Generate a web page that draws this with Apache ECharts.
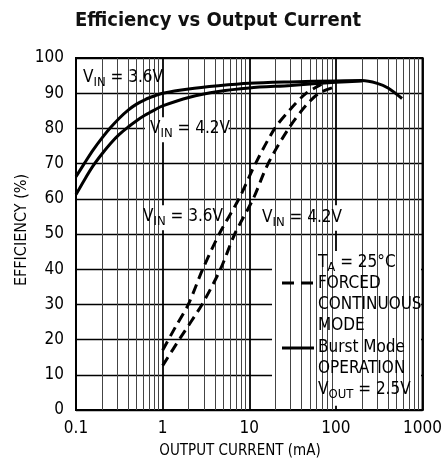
<!DOCTYPE html>
<html><head><meta charset="utf-8">
<script src="https://cdn.jsdelivr.net/npm/echarts@6.0.0/dist/echarts.min.js"></script>
<style>html,body{margin:0;padding:0;background:#fff}#c{width:445px;height:464px}</style>
</head><body><div id="c"></div>
<script>
const FONT = "'Liberation Sans Narrow', 'DejaVu Sans Condensed', 'Roboto', sans-serif";

const xTickLabels = ['0.1', '1', '10', '100', '1000'];
const yTicks = [0, 10, 20, 30, 40, 50, 60, 70, 80, 90, 100];
const minorX = [0.2, 0.3, 0.4, 0.5, 0.6, 0.7, 0.8, 0.9,
                2, 3, 4, 5, 6, 7, 8, 9,
                20, 30, 40, 50, 60, 70, 80, 90,
                200, 300, 400, 500, 600, 700, 800, 900];

// Burst Mode operation (solid)
const burst36 = [[0.1, 66.3], [0.126, 70.2], [0.158, 73.9], [0.2, 77.3], [0.252, 80.3], [0.316, 82.9],
  [0.4, 85.2], [0.5, 86.9], [0.63, 88.2], [0.8, 89.2], [1, 90], [2, 91.2], [4.4, 92.1],
  [10, 92.8], [30, 93.2], [100, 93.5], [200, 93.6], [300, 92.8], [400, 91.5], [580, 88.5]];
const burst42 = [[0.1, 61.2], [0.126, 65.5], [0.158, 69.4], [0.2, 72.8], [0.252, 75.8], [0.316, 78.3],
  [0.4, 80.4], [0.5, 82.2], [0.63, 83.8], [0.8, 85.2], [1, 86.4], [2, 88.8], [4.4, 90.5],
  [10, 91.5], [30, 92.2], [100, 93.1], [200, 93.5]];

// Forced continuous mode (dashed)
const forced36 = [[1, 17], [1.4, 23.5], [1.98, 30], [2.9, 40], [4.5, 50], [7.6, 60], [11.8, 70],
  [19.7, 80], [30, 85.5], [45.5, 90], [68, 92.5]];
const forced42 = [[1, 12.6], [1.6, 20.5], [2.85, 30], [4.65, 40], [6.8, 50], [11.1, 60], [16.5, 70],
  [28.5, 80], [45, 86.5], [64, 90], [92, 91.6]];

// White label boxes, in data units: [xMin, yMin, xMax, yMax]
const labelBoxes = [[0.103, 91.5, 0.977, 98.5], [0.625, 76.1, 5.77, 83.2], [0.519, 51.1, 4.67, 58.2],
  [11.1, 50.9, 108, 58.2], [18.3, 1.2, 960, 45.2]];

const ctx = document.createElement('canvas').getContext('2d');
function tw(t, size) { ctx.font = size + 'px ' + FONT; return ctx.measureText(t).width; }

function txt(x, y, text, size, extra) {
  return Object.assign({ type: 'text', x: x, y: y, z: 10, zlevel: 1,
    style: Object.assign({ text: text, font: size + 'px ' + FONT, fill: '#000',
      textAlign: 'left', textVerticalAlign: 'middle' }, extra || {}) });
}
function subLabel(x, y, main, sub, rest, size, subSize) {
  const w1 = tw(main, size), w2 = tw(sub, subSize);
  return [txt(x, y, main, size), txt(x + w1, y + 5, sub, subSize), txt(x + w1 + w2, y, rest, size)];
}

const graphics = [
  txt(218, 21, 'Efficiency vs Output Current', 20, { font: 'bold 20px ' + FONT, fill: '#111', textAlign: 'center' }),
  Object.assign(txt(22, 230, 'EFFICIENCY (%)', 16, { textAlign: 'center' }), { rotation: Math.PI / 2 }),
  txt(240, 451, 'OUTPUT CURRENT (mA)', 15, { textAlign: 'center' })
];
graphics.push(...subLabel(83, 78, 'V', 'IN', ' = 3.6V', 17, 13));
graphics.push(...subLabel(150, 129, 'V', 'IN', ' = 4.2V', 17, 13));
graphics.push(...subLabel(143, 217, 'V', 'IN', ' = 3.6V', 17, 13));
graphics.push(...subLabel(262, 218, 'V', 'IN', ' = 4.2V', 17, 13));
graphics.push(...subLabel(318, 263, 'T', 'A', ' = 25°C', 17, 13));
graphics.push(txt(318, 284, 'FORCED', 17));
graphics.push(txt(318, 305, 'CONTINUOUS', 17));
graphics.push(txt(318, 326, 'MODE', 17));
graphics.push(txt(318, 348, 'Burst Mode', 17));
graphics.push(txt(318, 369, 'OPERATION', 17));
graphics.push(...subLabel(318, 390, 'V', 'OUT', ' = 2.5V', 17, 13));
graphics.push({ type: 'line', z: 10, zlevel: 1, shape: { x1: 282, y1: 283, x2: 314, y2: 283 },
  style: { stroke: '#000', lineWidth: 3, lineDash: [12, 7] } });
graphics.push({ type: 'line', z: 10, zlevel: 1, shape: { x1: 282, y1: 348, x2: 314, y2: 348 },
  style: { stroke: '#000', lineWidth: 3 } });

function curve(data, dashed) {
  return { type: 'line', data: data, smooth: 0.3, symbol: 'none', z: 5, silent: true,
    lineStyle: { color: '#000', width: 3, type: dashed ? [10, 6] : 'solid' } };
}

const chart = echarts.init(document.getElementById('c'), null, { renderer: 'canvas' });
chart.setOption({
  animation: false,
  backgroundColor: '#fff',
  grid: { left: 76, top: 58, width: 352, height: 352, show: true, borderColor: '#000', borderWidth: 2,
    backgroundColor: 'transparent' },
  xAxis: {
    type: 'log', logBase: 10, min: 0.1, max: 1000,
    axisLine: { show: true, lineStyle: { color: '#000', width: 2 } },
    axisTick: { show: false },
    axisLabel: { fontFamily: FONT, fontSize: 17, color: '#000', margin: 10,
      formatter: function (v) { return xTickLabels[Math.round(Math.log10(v)) + 1]; } },
    splitLine: { show: true, lineStyle: { color: '#000', width: 1.8 } }
  },
  yAxis: {
    type: 'value', min: yTicks[0], max: yTicks[yTicks.length - 1], interval: 10,
    axisLine: { show: true, lineStyle: { color: '#000', width: 2 } },
    axisTick: { show: false },
    axisLabel: { fontFamily: FONT, fontSize: 17, color: '#000', margin: 12 },
    splitLine: { show: true, lineStyle: { color: '#000', width: 1.4 } }
  },
  graphic: { zlevel: 1, z: 10, elements: graphics },
  series: [
    { type: 'line', data: [], z: 1, silent: true,
      markLine: { silent: true, symbol: ['none', 'none'], label: { show: false }, animation: false,
        lineStyle: { color: '#444', width: 1, type: 'solid' },
        data: minorX.map(function (v) { return { xAxis: v }; }) } },
    { type: 'line', data: [], z: 3, silent: true,
      markArea: { silent: true, animation: false, label: { show: false },
        itemStyle: { color: '#fff', opacity: 1, borderWidth: 0 },
        data: labelBoxes.map(function (b) { return [{ coord: [b[0], b[1]] }, { coord: [b[2], b[3]] }]; }) } },
    curve(burst36, false), curve(burst42, false), curve(forced36, true), curve(forced42, true)
  ]
});
</script>
</body></html>
